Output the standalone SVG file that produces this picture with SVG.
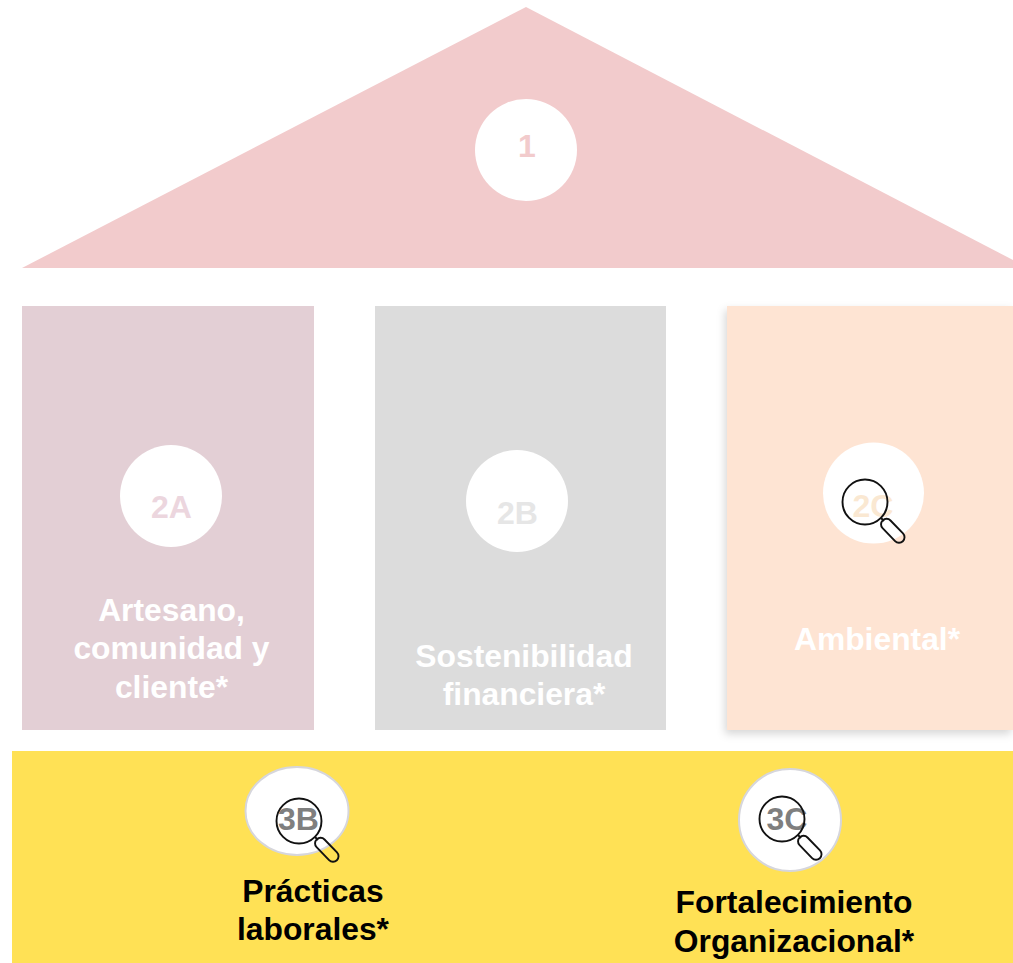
<svg xmlns="http://www.w3.org/2000/svg" width="1013" height="963" viewBox="0 0 1013 963">
<style>
text{font-family:"Liberation Sans",Arial,sans-serif;font-weight:700;text-anchor:middle}
.w{fill:#fff;font-size:31.8px}
.b{fill:#000;font-size:31.8px}
.n{font-size:32px}
.c{fill:#fff}
.o{stroke:#d6d6dc;stroke-width:2}
</style>
<defs>
<filter id="sh" x="-10%" y="-10%" width="120%" height="120%"><feDropShadow dx="-2" dy="4" stdDeviation="4" flood-color="#000" flood-opacity="0.16"/></filter>
<g id="lens" fill="none" stroke="#111" stroke-width="1.9">
<circle cx="0" cy="0" r="22.500"/>
<line x1="16" y1="16" x2="19" y2="19"/>
<rect x="25.500" y="-5.500" width="29" height="11" rx="5.500" transform="rotate(46)"/>
</g>
</defs>
<rect width="1013" height="963" fill="#fff"/>
<g id="roof">
<polygon points="526,7 1013,260 1013,268 22,268" fill="#f2cbcc"/>
<circle class="c" cx="526" cy="150" r="51"/>
<text class="n" x="527" y="157" fill="#f2cbcc">1</text>
</g>
<g id="pillar-2a">
<rect x="22" y="306" width="292" height="424" fill="#e3cfd5"/>
<circle class="c" cx="171" cy="496" r="51"/>
<text class="n" x="171.500" y="518" fill="#ecd6de">2A</text>
<text class="w" x="171.500" y="621">Artesano,</text>
<text class="w" x="171.500" y="659">comunidad y</text>
<text class="w" x="171.500" y="698">cliente*</text>
</g>
<g id="pillar-2b">
<rect x="375" y="306" width="291" height="424" fill="#dcdcdc"/>
<circle class="c" cx="517" cy="501" r="51"/>
<text class="n" x="517.500" y="524" fill="#e6e6e6">2B</text>
<text class="w" x="524" y="667">Sostenibilidad</text>
<text class="w" x="524" y="705">financiera*</text>
</g>
<g id="pillar-2c">
<rect x="727" y="306" width="286" height="424" fill="#fee4d3" filter="url(#sh)"/>
<circle class="c" cx="873.500" cy="493" r="50.500"/>
<text class="n" x="873" y="517" fill="#fae8d2">2C</text>
<use href="#lens" x="865" y="502"/>
<text class="w" x="877" y="650">Ambiental*</text>
</g>
<g id="base">
<rect x="12" y="751" width="1001" height="212" fill="#ffe155"/>
</g>
<g id="node-3b">
<ellipse class="c o" cx="297" cy="811" rx="51.500" ry="44"/>
<text class="n" x="298.500" y="830" fill="#7f7f7f">3B</text>
<use href="#lens" x="299" y="821"/>
<text class="b" x="313" y="902">Prácticas</text>
<text class="b" x="313" y="940">laborales*</text>
</g>
<g id="node-3c">
<circle class="c o" cx="790" cy="820" r="51"/>
<text class="n" x="787" y="830" fill="#7f7f7f">3C</text>
<use href="#lens" x="782" y="819"/>
<text class="b" x="794" y="913">Fortalecimiento</text>
<text class="b" x="794" y="952">Organizacional*</text>
</g>
</svg>
